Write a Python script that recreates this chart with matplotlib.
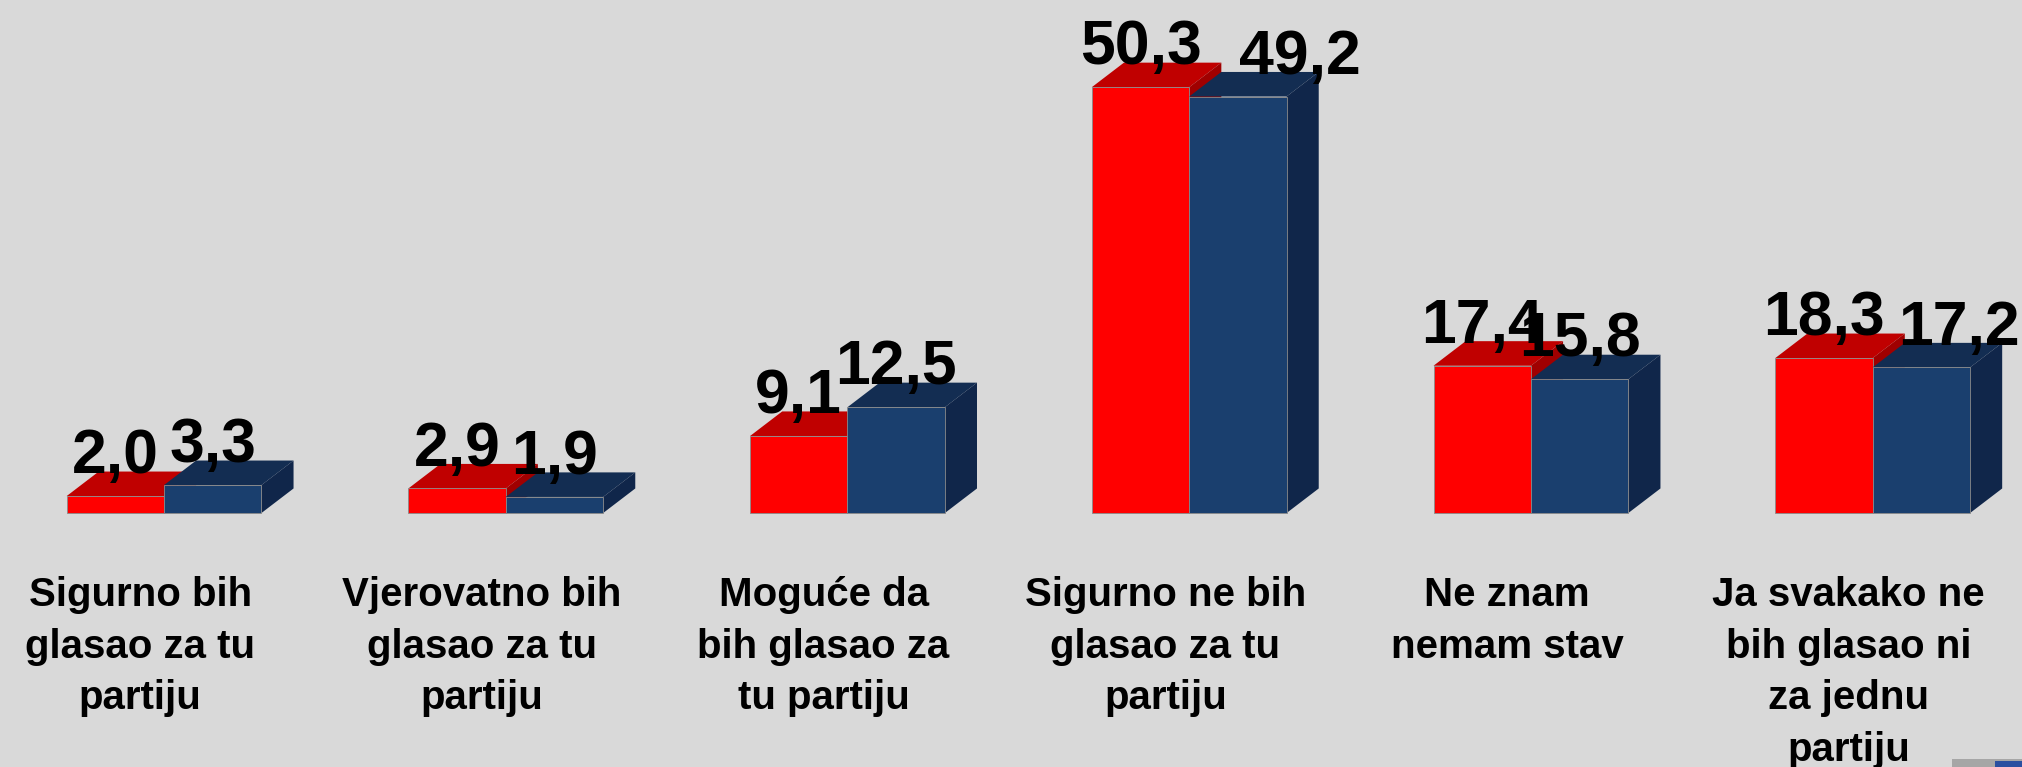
import numpy as np
import matplotlib.pyplot as plt
from matplotlib.patches import Polygon, Rectangle

categories = [
    "Sigurno bih\nglasao za tu\npartiju",
    "Vjerovatno bih\nglasao za tu\npartiju",
    "Moguće da\nbih glasao za\ntu partiju",
    "Sigurno ne bih\nglasao za tu\npartiju",
    "Ne znam\nnemam stav",
    "Ja svakako ne\nbih glasao ni\nza jednu\npartiju",
]
red_vals = [2.0, 2.9, 9.1, 50.3, 17.4, 18.3]
blue_vals = [3.3, 1.9, 12.5, 49.2, 15.8, 17.2]

# small sideways nudges of the blue value labels, as placed in the original
blue_label_shift = [0.0, 0.0, 0.0, 0.18, 0.0, 0.11]

bg = "#d9d9d9"
red_front, red_top, red_side = "#ff0000", "#c00000", "#a00000"
blue_front, blue_top, blue_side = "#1a3f6e", "#132d52", "#10264a"
font = "Liberation Sans"

W, H, DPI = 2022, 767, 100
fig = plt.figure(figsize=(W / DPI, H / DPI), dpi=DPI, facecolor=bg)
ax = fig.add_axes([0, 0, 1, 1])
ax.set_facecolor(bg)
ax.set_xlim(-0.48, 5.437)
ax.set_ylim(-30.0, 60.6)
ax.axis("off")

bw = 0.285      # bar width (category units)
dx, dy = 0.094, 2.9   # 3d depth offset


def box(x0, h, front, top, side):
    x1 = x0 + bw
    ax.add_patch(Polygon([(x0, h), (x0 + dx, h + dy), (x1 + dx, h + dy), (x1, h)],
                         closed=True, fc=top, ec="none"))
    ax.add_patch(Polygon([(x1, 0), (x1 + dx, dy), (x1 + dx, h + dy), (x1, h)],
                         closed=True, fc=side, ec="none"))
    ax.add_patch(Polygon([(x0, 0), (x1, 0), (x1, h), (x0, h)],
                         closed=True, fc=front, ec="#8a8a8a", lw=0.6))


def fmt(v):
    return f"{v:.1f}".replace(".", ",")


x = np.arange(len(categories))
for i in x:
    r, b = red_vals[i], blue_vals[i]
    box(i - bw, r, red_front, red_top, red_side)
    box(i, b, blue_front, blue_top, blue_side)

    ax.text(i - bw / 2, r + dy - 0.2, fmt(r), ha="center", va="baseline",
            fontsize=45, fontweight="bold", family=font, color="black")
    ax.text(i + bw / 2 + blue_label_shift[i], b + dy - 0.2, fmt(b),
            ha="center", va="baseline", fontsize=45, fontweight="bold",
            family=font, color="black")

    ax.text(i - 0.07, -7.45, categories[i], ha="center", va="top",
            fontsize=29, fontweight="bold", family=font,
            color="black", linespacing=1.45)

# corner of a logo peeking in at the bottom right
fig.patches.append(Rectangle((1952 / W, 0), 70 / W, 8 / H, transform=fig.transFigure,
                             fc="#a6a6a6", ec="none"))
fig.patches.append(Rectangle((1995 / W, 0), 27 / W, 6 / H, transform=fig.transFigure,
                             fc="#2a4fa0", ec="none"))

fig.savefig("out.png", dpi=DPI, facecolor=bg)
